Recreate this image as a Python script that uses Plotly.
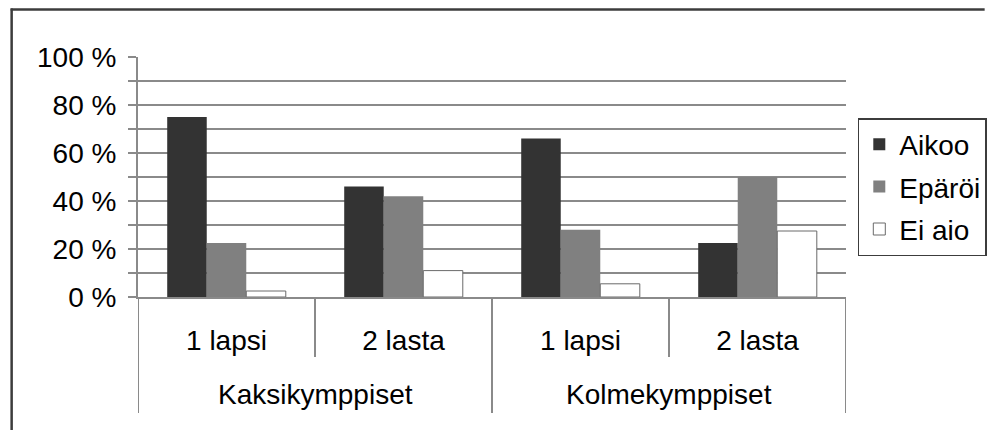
import plotly.graph_objects as go

groups = ["Kaksikymppiset", "Kolmekymppiset"]
subs = ["1 lapsi", "2 lasta", "1 lapsi", "2 lasta"]
sub_group = [0, 0, 1, 1]
series_names = ["Aikoo", "Epäröi", "Ei aio"]
aikoo = [75, 46, 66, 22.5]
eparoi = [22.5, 42, 28, 50]
ei_aio = [2.5, 11, 5.5, 27.5]
y_ticks = [0, 20, 40, 60, 80, 100]
y_tick_labels = ["0 %", "20 %", "40 %", "60 %", "80 %", "100 %"]

OFF = 8  # page body margin
W, H = 999 - OFF, 438 - 2 * OFF
# target plot rectangle in screenshot pixels
PL, PR, PT, PB = 138, 858, 57, 297
L, R, T, B = PL - OFF, W - (PR - OFF), PT - OFF, H - (PB - OFF)
pw, ph = PR - PL, PB - PT

FONT = "Liberation Sans, Arial, sans-serif"
GRID = "#8a8a8a"

x_pos = list(range(len(subs)))

fig = go.Figure()
styles = [
    dict(color="#333333", line=dict(width=0)),
    dict(color="#808080", line=dict(width=0)),
    dict(color="#ffffff", line=dict(width=1, color="#6a6a6a")),
]
for name, vals, st in zip(series_names, [aikoo, eparoi, ei_aio], styles):
    fig.add_trace(go.Bar(x=x_pos, y=vals, name=name, marker=st,
                         legendgroup=name))

def px_x(p):
    return (p - PL) / pw

def px_y(p):
    return (PB - p) / ph

shapes = []
n = len(subs)
for i in range(n + 1):
    xv = i - 0.5
    edge = (i == 0 or i == n or sub_group[i - 1] != sub_group[i])
    shapes.append(dict(type="line", xref="x", yref="paper", x0=xv, x1=xv,
                       y0=0, y1=px_y(413 if edge else 357),
                       line=dict(color=GRID, width=2)))
# outer chart border: only the top and left edges fall inside the page
BORDER = dict(color="#3c3c3c", width=2.5)
shapes.append(dict(type="line", xref="paper", yref="paper",
                   x0=px_x(8.5), x1=px_x(W + OFF), y0=px_y(9.5), y1=px_y(9.5),
                   line=BORDER))
shapes.append(dict(type="line", xref="paper", yref="paper",
                   x0=px_x(9.5), x1=px_x(9.5), y0=px_y(8.5), y1=px_y(H + OFF),
                   line=BORDER))

annotations = []
for gi, g in enumerate(groups):
    members = [x for x, sg in zip(x_pos, sub_group) if sg == gi]
    annotations.append(dict(x=sum(members) / len(members), xref="x",
                            y=px_y(394), yref="paper", yanchor="middle",
                            text=g, showarrow=False,
                            font=dict(family=FONT, size=28, color="#000000")))

fig.update_layout(
    width=W, height=H,
    margin=dict(l=L, r=R, t=T, b=B, pad=0),
    paper_bgcolor="white", plot_bgcolor="white",
    font=dict(family=FONT, size=28, color="#000000"),
    barmode="group", bargap=0.33, bargroupgap=0,
    showlegend=True,
    legend=dict(x=px_x(870), xanchor="left", y=px_y(118), yanchor="top",
                bordercolor="#3c3c3c", borderwidth=1.5, bgcolor="white",
                font=dict(family=FONT, size=28), tracegroupgap=3,
                traceorder="grouped"),
    shapes=shapes,
    annotations=annotations,
    xaxis=dict(range=[-0.5, n - 0.5], tickvals=x_pos, ticktext=subs,
               showgrid=False, zeroline=False,
               showline=True, linecolor=GRID, linewidth=2, ticks="",
               ticklabelstandoff=17,
               tickfont=dict(family=FONT, size=28)),
    yaxis=dict(range=[0, 100], tickvals=y_ticks, ticktext=y_tick_labels,
               showgrid=True, gridcolor=GRID, gridwidth=1.5,
               showline=True, linecolor=GRID, linewidth=2,
               ticks="outside", ticklen=8, tickcolor=GRID, tickwidth=2,
               ticklabelstandoff=6, zeroline=False,
               minor=dict(dtick=10, showgrid=True, gridcolor=GRID, gridwidth=1.5,
                          ticks="outside", ticklen=8, tickcolor=GRID, tickwidth=2),
               tickfont=dict(family=FONT, size=28)),
)

fig.write_html("out.html")
